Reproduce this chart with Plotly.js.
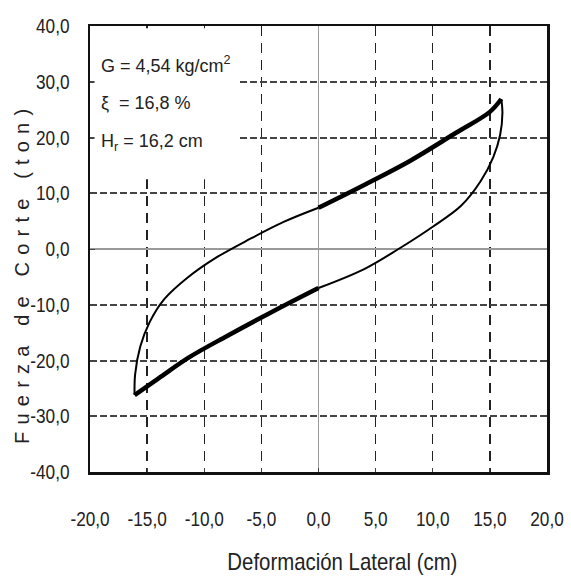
<!DOCTYPE html>
<html><head><meta charset="utf-8">
<script src="https://cdn.plot.ly/plotly-3.0.1.min.js"></script>
<style>body{margin:0;background:#fff}</style>
</head><body>
<div id="chart" style="width:571px;height:582px"></div>
<script>
// Upper branch, thin part (from negative peak up to x=0)
const upThinX = [-16.1, -16.05, -15.6, -14.8, -13.5, -11.5, -9.0, -6.0, -3.0, 0.0];
const upThinY = [-26.2, -22.5, -17.5, -13.2, -9.0, -5.2, -1.6, 1.8, 4.9, 7.4];
// Upper branch, thick part (x=0 to positive peak)
const upThickX = [0.0, 4.0, 8.0, 12.0, 15.0, 16.0];
const upThickY = [7.4, 11.5, 15.8, 20.8, 24.6, 26.9];
// Lower branch, thin part (from positive peak down to x=0)
const lowThinX = [16.0, 16.1, 15.9, 15.3, 14.2, 12.5, 10.0, 7.0, 4.0, 0.0];
const lowThinY = [26.9, 24.5, 20.5, 16.5, 12.2, 7.8, 4.0, 0.0, -3.6, -7.0];
// Lower branch, thick part (x=0 to negative peak)
const lowThickX = [0.0, -4.0, -8.0, -11.3, -14.0, -16.1];
const lowThickY = [-7.0, -11.2, -15.6, -19.4, -23.2, -26.2];

const xTicks = [-20, -15, -10, -5, 0, 5, 10, 15, 20];
const xTickText = ["-20,0", "-15,0", "-10,0", "-5,0", "0,0", "5,0", "10,0", "15,0", "20,0"];
const yTicks = [-40, -30, -20, -10, 0, 10, 20, 30, 40];
const yTickText = ["-40,0", "-30,0", "-20,0", "-10,0", "0,0", "10,0", "20,0", "30,0", "40,0"];
const infoLines = ["G = 4,54 kg/cm<sup>2</sup>", "ξ \u00a0= 16,8 %", "H<sub>r</sub> = 16,2 cm"];
const xTitle = "Deformación Lateral (cm)";
const yTitle = "Fuerza de Corte (ton)";

const sans = "Liberation Sans, Arial, sans-serif";

function tr(x, y, w) {
  return {x: x, y: y, mode: 'lines', type: 'scatter', hoverinfo: 'skip',
          line: {color: '#000', width: w, shape: 'spline', smoothing: 1}};
}
const data = [tr(upThinX, upThinY, 2), tr(upThickX, upThickY, 4.5),
              tr(lowThinX, lowThinY, 2), tr(lowThickX, lowThickY, 4.5)];

const annotations = infoLines.map((t, i) => ({
  xref: 'paper', yref: 'paper', x: 0.02, y: [(472 - 64) / 446, (472 - 103) / 446, (472 - 142) / 446][i],
  xanchor: 'left', yanchor: 'middle', showarrow: false, text: t,
  font: {family: sans, size: 18, color: '#222'}
}));
annotations.push({xref: 'paper', yref: 'paper', x: (342 - 90) / 457, y: -(561 - 472) / 446,
  xanchor: 'center', yanchor: 'middle', showarrow: false, text: xTitle,
  font: {family: sans, size: 24, color: '#222'}});
annotations.push({xref: 'paper', yref: 'paper', x: -(90 - 22) / 457, y: (472 - 277) / 446,
  xanchor: 'center', yanchor: 'middle', showarrow: false, text: yTitle, textangle: -90,
  font: {family: sans, size: 20, color: '#222'}});

const layout = {
  width: 571, height: 582,
  margin: {l: 90, r: 24, t: 26, b: 110},
  paper_bgcolor: '#fff', plot_bgcolor: '#fff',
  showlegend: false,
  xaxis: {
    range: [-20, 20], tickvals: xTicks, ticktext: xTickText, tickangle: 0,
    showgrid: true, gridcolor: '#222', gridwidth: 1.3, griddash: '10px,7px',
    zeroline: true, zerolinecolor: '#9a9a9a', zerolinewidth: 1.3,
    showline: true, linecolor: '#111', linewidth: 2.5, mirror: true,
    ticks: 'inside', ticklen: 4, tickcolor: '#444',
    ticklabelstandoff: 27,
    tickfont: {family: sans, size: 20, color: '#222'}
  },
  yaxis: {
    range: [-40, 40], tickvals: yTicks, ticktext: yTickText, tickangle: 0,
    showgrid: true, gridcolor: '#444', gridwidth: 2, griddash: '7px,3px',
    zeroline: true, zerolinecolor: '#9a9a9a', zerolinewidth: 1.3,
    showline: true, linecolor: '#111', linewidth: 2.5, mirror: true,
    ticks: 'inside', ticklen: 5, tickcolor: '#444',
    ticklabelstandoff: 14,
    tickfont: {family: sans, size: 20, color: '#222'}
  },
  shapes: [{type: 'rect', layer: 'above', xref: 'x', yref: 'y',
            x0: -19.6, x1: -7.0, y0: 12.5, y1: 39.6,
            fillcolor: '#fff', line: {width: 0}}],
  annotations: annotations
};

function squeeze(el, f) {
  const len = el.getComputedTextLength();
  el.setAttribute('textLength', (len * f).toFixed(1));
  el.setAttribute('lengthAdjust', 'spacingAndGlyphs');
}

Plotly.newPlot('chart', data, layout, {staticPlot: true}).then(() => {
  document.querySelectorAll('.xtick text, .ytick text').forEach(el => squeeze(el, 0.86));
  document.querySelectorAll('.annotation-text').forEach(el => {
    if (el.textContent === yTitle) {
      el.setAttribute('textLength', '335');
      el.setAttribute('lengthAdjust', 'spacing');
    } else if (el.textContent === xTitle) {
      squeeze(el, 0.85);
    }
  });
});
</script>
</body></html>
